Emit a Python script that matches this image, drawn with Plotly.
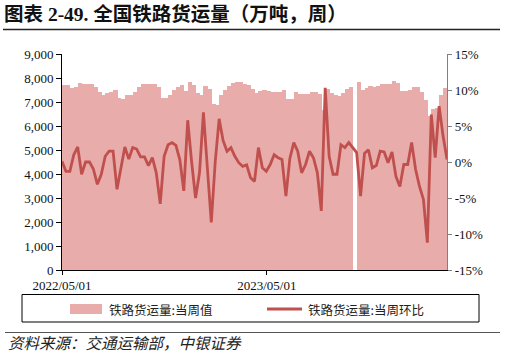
import plotly.graph_objects as go
import pandas as pd

# ---------------- data ----------------
title_text = "图表 2-49. 全国铁路货运量（万吨，周）"
source_text = "资料来源：交通运输部，中银证券"
series_names = ["铁路货运量:当周值", "铁路货运量:当周环比"]

week_start = "2022-05-01"

# weekly railway freight volume (10k tonnes)
volume = [
    7710, 7710, 7570, 7640, 7800, 7740, 7740, 7740, 7640, 7430,
    7290, 7360, 7430, 7500, 7150, 7110, 7290, 7290, 7430, 7640,
    7740, 7750, 7750, 7760, 7640, 7150, 7150, 7290, 7500, 7640,
    7710, 7450, 7820, 7720, 7380, 7290, 7650, 7550, 6900, 6880,
    7290, 7500, 7650, 7800, 7850, 7850, 7760, 7700, 7550, 7360,
    7450, 7500, 7450, 7430, 7430, 7430, 7500, 7110, 7110, 7400,
    7320, 7320, 7350, 7430, 7430, 7320, 6670, 7530, 7380, 7300,
    7250, 7360, 7530, 7620, None, 7850, 7500, 7580, 7670, 7640,
    7670, 7740, 7750, 7750, 7890, 7780, 7470, 7470, 7480, 7610,
    7610, 7420, 7080, 6400, 6700, 6740, 7300, 7570, 7570,
]

# week-on-week change (%)
wow_pct = [
    0.1, -1.3, -1.3, 1.0, 2.1, -1.7, 0.0, 0.0, -1.0, -3.1,
    -1.7, 0.8, 1.5, 1.5, -3.8, -0.8, 2.1, 0.4, 2.0, 1.8,
    0.7, 0.7, -0.5, 0.6, -1.5, -5.8, 0.8, 2.4, 2.7, 2.3,
    0.3, -4.0, 5.8, 0.0, -5.0, -1.5, 6.9, -0.8, -8.4, 0.0,
    6.0, 3.0, 1.5, 2.0, 0.8, -0.1, -0.6, -0.4, -2.2, -2.7,
    2.0, -0.8, -1.3, -0.35, 1.0, 0.6, 0.35, -4.75, 0.5, 2.7,
    1.5, -1.5, -0.35, 1.5, 0.6, -1.5, -6.8, 10.3, 0.8, -1.7,
    -1.7, 2.4, 2.0, 2.7, None, 1.3, -4.75, 1.2, 1.7, -0.8,
    -0.5, 1.5, 1.4, -0.1, 1.4, -2.0, -3.4, -0.35, -0.35, 2.7,
    -1.0, -3.4, -5.2, -11.2, 6.6, 0.6, 7.75, 3.6, 0.35,
]

x_tick_dates = ["2022-05-01", "2023-05-01"]
x_tick_labels = ["2022/05/01", "2023/05/01"]
right_tick_vals = [-15, -10, -5, 0, 5, 10, 15]
right_tick_labels = ["-15%", "-10%", "-5%", "0%", "5%", "10%", "15%"]

dates = pd.date_range(week_start, periods=len(volume), freq="7D")

# ---------------- style ----------------
BAR_COLOR = "#E8ACAB"
LINE_COLOR = "#C0504D"
SERIF = "Liberation Serif, Times New Roman, serif"
CJK = "Noto Sans CJK SC"
DAY_MS = 24 * 3600 * 1000

W, H = 505, 359
L, R, T, B = 62, 58, 54, 89
PW, PH = W - L - R, H - T - B


def px(X):
    return (X - L) / PW


def py(Y):
    return (H - B - Y) / PH


fig = go.Figure()
fig.add_trace(go.Bar(
    x=dates, y=volume, name=series_names[0],
    marker=dict(color=BAR_COLOR, line=dict(width=0)),
    width=8 * DAY_MS, offset=0, yaxis="y",
))
fig.add_trace(go.Scatter(
    x=dates, y=wow_pct, name=series_names[1], mode="lines",
    line=dict(color=LINE_COLOR, width=2.8), yaxis="y2", connectgaps=True,
))

fig.update_layout(
    width=W, height=H,
    margin=dict(l=L, r=R, t=T, b=B, pad=0),
    paper_bgcolor="white", plot_bgcolor="white",
    showlegend=False, bargap=0,
    font=dict(family=SERIF, size=13, color="#111"),
    xaxis=dict(
        type="date", range=[dates[0], dates[-1]],
        tickvals=x_tick_dates, ticktext=x_tick_labels,
        ticks="outside", ticklen=4, tickcolor="black", tickwidth=1,
        showline=True, linecolor="black", linewidth=1,
        showgrid=False, zeroline=False, tickangle=0,
        ticklabelstandoff=-1,
        tickfont=dict(family=SERIF, size=13, color="#111"),
    ),
    yaxis=dict(
        range=[0, 9000], dtick=1000, tickformat=",",
        ticks="outside", ticklen=5, tickcolor="black", tickwidth=1,
        showline=True, linecolor="black", linewidth=1,
        showgrid=False, zeroline=False,
        tickfont=dict(family=SERIF, size=13, color="#111"),
    ),
    yaxis2=dict(
        overlaying="y", side="right", range=[-15, 15],
        tickvals=right_tick_vals, ticktext=right_tick_labels,
        ticks="outside", ticklen=4, tickcolor="#808080", tickwidth=1,
        showline=True, linecolor="#808080", linewidth=1.2,
        showgrid=False, zeroline=False,
        tickfont=dict(family=SERIF, size=13, color="#111"),
    ),
)

shapes = [
    # title rule
    dict(type="line", xref="paper", yref="paper", x0=px(3), x1=px(500),
         y0=py(29.5), y1=py(29.5), line=dict(color="#222", width=1.5)),
    # legend box
    dict(type="rect", xref="paper", yref="paper", x0=px(22), x1=px(479),
         y0=py(322), y1=py(294.5), line=dict(color="black", width=1)),
    # legend bar swatch
    dict(type="rect", xref="paper", yref="paper", x0=px(70), x1=px(102),
         y0=py(314), y1=py(304), fillcolor=BAR_COLOR, line=dict(width=0)),
    # legend line swatch
    dict(type="line", xref="paper", yref="paper", x0=px(267), x1=px(302),
         y0=py(309), y1=py(309), line=dict(color=LINE_COLOR, width=3)),
    # footer rule
    dict(type="line", xref="paper", yref="paper", x0=px(5), x1=px(500),
         y0=py(332.5), y1=py(332.5), line=dict(color="#555", width=1)),
]

annotations = [
    dict(text="<b>" + title_text + "</b>", xref="paper", yref="paper",
         x=px(2), y=py(14), xanchor="left", yanchor="middle", showarrow=False,
         font=dict(family=SERIF + ", " + CJK, size=19.5, color="#111")),
    dict(text=series_names[0], xref="paper", yref="paper",
         x=px(107), y=py(309), xanchor="left", yanchor="middle", showarrow=False,
         font=dict(family=CJK, size=12.5, color="#222")),
    dict(text=series_names[1], xref="paper", yref="paper",
         x=px(306), y=py(309), xanchor="left", yanchor="middle", showarrow=False,
         font=dict(family=CJK, size=12.5, color="#222")),
    dict(text="<i>" + source_text + "</i>", xref="paper", yref="paper",
         x=px(6), y=py(342), xanchor="left", yanchor="middle", showarrow=False,
         font=dict(family=CJK, size=15.5, color="#222")),
]

fig.update_layout(shapes=shapes, annotations=annotations)

fig.write_html(
    "out.html",
    config={"displayModeBar": False},
    post_script="document.body.style.margin='0';document.body.style.overflow='hidden';",
)
